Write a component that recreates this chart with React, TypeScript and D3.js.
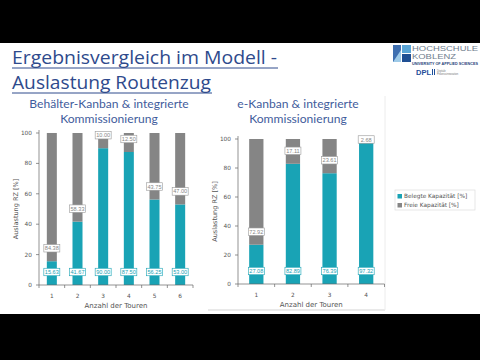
import React from "react";
import * as d3 from "d3";

const leftCategories = ["1", "2", "3", "4", "5", "6"];
const leftBelegt = [15.63, 41.67, 90.0, 87.5, 56.25, 53.0];
const leftFrei = [84.38, 58.33, 10.0, 12.5, 43.75, 47.0];

const rightCategories = ["1", "2", "3", "4"];
const rightBelegt = [27.08, 82.89, 76.39, 97.32];
const rightFrei = [72.92, 17.11, 23.61, 2.68];

const yTicks = [0, 20, 40, 60, 80, 100];
const seriesNames = ["Belegte Kapazität [%]", "Freie Kapazität [%]"];

const TEAL = "#19a3b5";
const GREY = "#858585";
const AXIS_FONT = "DejaVu Sans, Verdana, sans-serif";

type ChartProps = {
  cats: string[];
  belegt: number[];
  frei: number[];
  x0: number;
  x1: number;
  y0: number;
  y1: number;
  titleX: number;
  subtitle: string[];
};

function Chart({ cats, belegt, frei, x0, x1, y0, y1, titleX, subtitle }: ChartProps) {
  const x = d3.scaleBand<string>().domain(cats).range([x0, x1]).paddingInner(0.61).paddingOuter(0.305);
  const y = d3.scaleLinear().domain([0, 100]).range([y0, y1]);
  const step = x.step();
  const bw = x.bandwidth();
  const fmt = d3.format(".2f");
  const boundaries = d3.range(cats.length + 1).map((i) => x0 + i * step);
  const labelW = 16;
  const labelH = 7.5;
  return (
    <g>
      {subtitle.map((s, i) => (
        <text key={i} x={titleX} y={108 + i * 15} textAnchor="middle" fontFamily="Lato, sans-serif" fontSize={12.1} fill="#3f5c9c">
          {s}
        </text>
      ))}
      {cats.map((c, i) => {
        const bx = x(c)!;
        return (
          <g key={c}>
            <rect x={bx} y={y(belegt[i])} width={bw} height={y(0) - y(belegt[i])} fill={TEAL} />
            <rect x={bx} y={y(belegt[i] + frei[i])} width={bw} height={y(belegt[i]) - y(belegt[i] + frei[i])} fill={GREY} />
          </g>
        );
      })}
      {cats.map((c, i) => {
        const cx = x(c)! + bw / 2;
        const ly1 = y(0) - 13;
        const ly2 = Math.max(y(belegt[i]) - 13, y(100) + 0.5);
        return (
          <g key={"l" + c} fontFamily="Liberation Sans, Arial, sans-serif" fontSize={5.6} textAnchor="middle">
            <rect x={cx - labelW / 2} y={ly1 - labelH / 2} width={labelW} height={labelH} fill="#fff" stroke={TEAL} strokeWidth={0.6} />
            <text x={cx} y={ly1 + 2} fill={TEAL}>{fmt(belegt[i])}</text>
            <rect x={cx - labelW / 2} y={ly2 - labelH / 2} width={labelW} height={labelH} fill="#fff" stroke="#999" strokeWidth={0.6} />
            <text x={cx} y={ly2 + 2} fill="#888">{fmt(frei[i])}</text>
          </g>
        );
      })}
      <line x1={x0} x2={x0} y1={y1 - 3} y2={y0} stroke="#666" strokeWidth={0.7} />
      {yTicks.map((t) => (
        <g key={t}>
          <line x1={x0 - 3} x2={x0} y1={y(t)} y2={y(t)} stroke="#666" strokeWidth={0.7} />
          <text x={x0 - 7} y={y(t) + 2} textAnchor="end" fontFamily={AXIS_FONT} fontSize={5.8} fill="#555">{t}</text>
        </g>
      ))}
      <line x1={x0} x2={x1} y1={y0} y2={y0} stroke="#666" strokeWidth={0.7} />
      {boundaries.map((b, i) => (
        <line key={i} x1={b} x2={b} y1={y0} y2={y0 + 3} stroke="#666" strokeWidth={0.7} />
      ))}
      {cats.map((c) => (
        <text key={"t" + c} x={x(c)! + bw / 2} y={y0 + 13} textAnchor="middle" fontFamily={AXIS_FONT} fontSize={5.8} fill="#555">{c}</text>
      ))}
      <text x={(x0 + x1) / 2} y={y0 + 23} textAnchor="middle" fontFamily={AXIS_FONT} fontSize={7} fill="#555">Anzahl der Touren</text>
      <text transform={`translate(${x0 - 21},${(y0 + y1) / 2}) rotate(-90)`} textAnchor="middle" fontFamily={AXIS_FONT} fontSize={6.5} fill="#555">
        Auslastung RZ [%]
      </text>
    </g>
  );
}

export default function App() {
  return (
    <svg width={480} height={360} style={{ position: "absolute", left: 0, top: 0 }}>
      <rect x={0} y={0} width={480} height={360} fill="#fff" />
      <rect x={0} y={0} width={480} height={43} fill="#000" />
      <rect x={0} y={314} width={480} height={46} fill="#000" />

      <g fontFamily="Open Sans, sans-serif" fontSize={17.5} fill="#2e4a8c">
        <text x={12} y={64} textLength={265} lengthAdjust="spacingAndGlyphs">Ergebnisvergleich im Modell -</text>
        <text x={12} y={89} textLength={199} lengthAdjust="spacingAndGlyphs">Auslastung Routenzug</text>
      </g>
      <line x1={12} x2={278} y1={68} y2={68} stroke="#2e4a8c" strokeWidth={1} />
      <line x1={12} x2={212} y1={93} y2={93} stroke="#2e4a8c" strokeWidth={1} />

      <g fontFamily="Liberation Sans, Arial, sans-serif">
        <rect x={393} y={45} width={8} height={17} fill="#3f6fb0" />
        <rect x={402} y={45} width={9} height={8} fill="#5aa5d6" />
        <rect x={402} y={54} width={9} height={8} fill="#1f4f93" />
        <polygon points="393,62 401,50 401,62" fill="#9ecae8" />
        <text x={412} y={51} fontSize={8} fill="#6f7e8e" textLength={66} lengthAdjust="spacingAndGlyphs">HOCHSCHULE</text>
        <text x={412} y={58.5} fontSize={8} fill="#6f7e8e" textLength={44} lengthAdjust="spacingAndGlyphs">KOBLENZ</text>
        <text x={412} y={64.5} fontSize={3.2} fontWeight="bold" fill="#1f3f7a" textLength={66} lengthAdjust="spacingAndGlyphs">UNIVERSITY OF APPLIED SCIENCES</text>
        <text x={416} y={75} fontSize={7.5} fontWeight="bold" fill="#1f4f9a">DPL</text>
        <rect x={432} y={69} width={1} height={6} fill="#1f4f9a" />
        <rect x={434} y={69} width={1} height={6} fill="#1f4f9a" />
        <text x={437} y={71.5} fontSize={2.6} fill="#777">Digitale</text>
        <text x={437} y={74.5} fontSize={2.6} fill="#777">Prozessinnovation</text>
      </g>

      <line x1={208} x2={385} y1={310} y2={310} stroke="#e2e2e2" strokeWidth={1.5} />
      <line x1={385} x2={385} y1={96} y2={310} stroke="#ececec" strokeWidth={1} />

      <Chart
        cats={leftCategories}
        belegt={leftBelegt}
        frei={leftFrei}
        x0={39}
        x1={193}
        y0={285}
        y1={133}
        titleX={109}
        subtitle={["Behälter-Kanban & integrierte", "Kommissionierung"]}
      />
      <Chart
        cats={rightCategories}
        belegt={rightBelegt}
        frei={rightFrei}
        x0={238}
        x1={384.5}
        y0={284}
        y1={139}
        titleX={298}
        subtitle={["e-Kanban & integrierte", "Kommissionierung"]}
      />

      <g>
        <rect x={395} y={190} width={80} height={20} fill="#fff" stroke="#dcdcdc" strokeWidth={0.7} />
        {seriesNames.map((s, i) => (
          <g key={s}>
            <rect x={397.5} y={194 + i * 9} width={4.5} height={4.5} fill={i === 0 ? TEAL : GREY} />
            <text x={404} y={198.3 + i * 9} fontFamily={AXIS_FONT} fontSize={5.8} fill="#555">{s}</text>
          </g>
        ))}
      </g>
    </svg>
  );
}
